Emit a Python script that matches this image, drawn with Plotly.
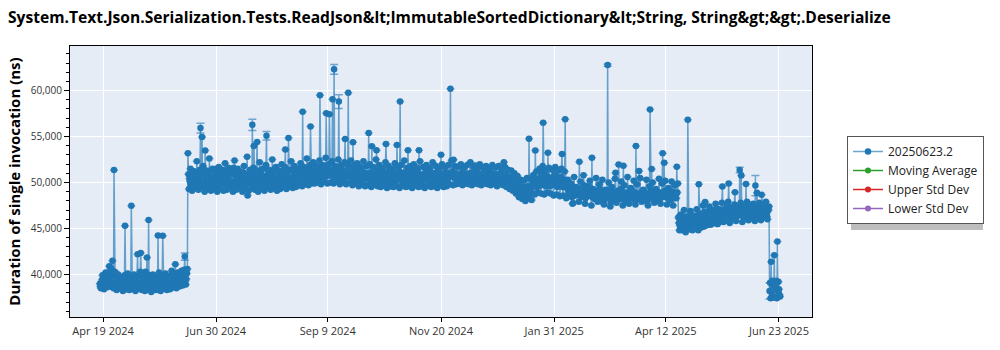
import pandas as pd
import plotly.graph_objects as go

title_text = ("System.Text.Json.Serialization.Tests.ReadJson&amp;lt;ImmutableSortedDictionary"
              "&amp;lt;String, String&amp;gt;&amp;gt;.Deserialize")
y_title = "Duration of single invocation (ns)"
series_name = "20250623.2"
extra_series = ["Moving Average", "Upper Std Dev", "Lower Std Dev"]
extra_colors = ["#2ca02c", "#d62728", "#9467bd"]

start_date = "2024-04-17"

# first reading of each day (ns)
values_run1 = [
    # Apr 17 2024 -> Jun 11 2024
    39000, 38800, 39300, 38700, 39600, 39200, 40900, 39800, 41480, 51350,
    40200, 39600, 38900, 39300, 38600, 39100, 45300, 38800, 39500, 38600,
    47470, 39000, 38500, 39700, 42190, 38700, 42340, 39200, 38600, 40300,
    41830, 45930, 38400, 39000, 38500, 39400, 38300, 44240, 38700, 39600,
    44200, 38900, 38600, 39300, 38800, 39500, 40100, 38900, 41100, 39200,
    39800, 38900, 40400, 39600, 41940, 39500,
    # Jun 12 2024 ->
    53180, 50400, 49800, 50900, 50200, 49600, 51100, 50300, 55920, 54950,
    50100, 53470, 49500, 50700, 49900, 50400, 49300, 50800, 51500, 50000,
    49700, 50600, 51300, 50200, 49800, 51000, 50300, 49600, 50900, 51600,
    50100, 49900, 50500, 51200, 50000, 49700, 50800, 50200, 48600, 50400,
    51100, 56270, 53980, 50600, 54410, 50300, 49800, 51400, 50700, 50100,
    55090, 50500, 49700, 51000, 50200, 49900, 51700, 50400, 50000, 51200,
    50600, 49800, 53580, 50900, 54840, 50300, 49900, 51300, 50500, 50100,
    50800, 51500, 50400, 57710, 50600, 51200, 50000, 50700, 56090, 51300,
    50500, 50900, 51600, 50300, 59480, 51000, 50600, 51800, 57540, 50800,
    57430, 51200, 59050, 62310, 51400, 50700, 58800, 51100, 50500, 51300,
    54730, 50900, 59770, 51000, 50400, 54370, 50800, 51200, 50100, 50600,
    51500, 50300, 49800, 50900, 50500, 55380, 50200, 53940, 50700, 49900,
    53510, 50400, 51000, 50200, 49700, 50600, 54200, 50100, 49600, 50800,
    51300, 50300, 49900, 54080, 50500, 58800, 50200, 49700, 51000, 50400,
    53510, 50000, 50700, 51200, 50300, 49800, 50600, 53510, 50100, 49600,
    50900, 50400, 51300, 50000, 50700, 50200, 49700, 50800, 51100, 50300,
    49900, 53010, 50500, 51000, 50200, 49800, 50700, 60200, 50900, 52470,
    50400, 50800, 50100, 51820, 50600, 50300, 51000, 50500, 50200, 50800,
    50400, 51100, 50000, 51840, 50600, 50300, 50900, 50400, 50100, 50700,
    51200, 50400, 50000, 50600, 50900, 50300, 50700, 50200, 50500, 51000,
    50400, 52200, 50600, 50100, 50400, 49900, 50300, 49600, 50000, 49400,
    49000, 49700, 48700, 49300, 48600, 49500, 49100, 54760, 48800, 49600,
    50200, 53470, 49500, 50400, 49800, 51000, 56490, 50100, 49600, 53250,
    50300, 49700, 50600, 49900, 50800, 49500, 50200, 49800, 53100, 50000,
    56890, 49400, 50100, 48800, 49300, 47760, 48600, 49500, 48900, 52250,
    49200, 48500, 49700, 48300, 49100, 48700, 49400, 52690, 48600, 49000,
    48200, 48800, 49300, 48400, 47900, 48700, 48300, 62780, 48500, 47800,
    48900, 48300, 51070, 48600, 51970, 48200, 49000, 51820, 48400, 47900,
    48800, 48300, 49200, 48500, 48100, 53980, 48700, 51240, 48400, 49000,
    48200, 48800, 47900, 48600, 57930, 51460, 48500, 49100, 48300, 48900,
    48000, 48700, 53180, 52140, 48400, 49200, 48600, 48100, 49000, 48500,
    48800, 51710,
    # Apr 2025 drop
    46200, 45300, 46000, 44900, 45600, 46300, 56820, 45100, 45800, 44800,
    46400, 45500, 46100, 49810, 45600, 46500, 45200, 47870, 46000, 45400,
    46700, 46200, 45700, 46900, 46300, 45500, 47100, 46400, 49560, 46800,
    45900, 47300, 49880, 46600, 47200, 46100, 48950, 46900, 47400, 51350,
    50750, 46500, 47000, 49840, 46300, 47500, 46800, 46200, 47300, 49670,
    48880, 46700, 47100, 48660, 46400, 47200, 46600, 47000,
    # Jun 2025 drop
    38200, 41370, 37600, 42080, 38900, 43590, 38400,
]

# second reading of each day (ns)
values_run2 = [
    38700, 39400, 38900, 39800, 38800, 40200, 39500, 40600, 39100, 40300,
    39100, 38500, 39700, 38700, 39400, 38400, 39800, 39200, 38700, 39300,
    38900, 39600, 39200, 38500, 39100, 39800, 38600, 38400, 39500, 38900,
    39300, 38600, 39700, 38500, 39200, 38700, 39500, 38900, 39300, 38500,
    39100, 39700, 39400, 38700, 39600, 39000, 38800, 39900, 39300, 38800,
    39400, 40000, 39100, 39700, 39300, 40100,
    50900, 50100, 50600, 49700, 51200, 50400, 49800, 50700, 51000, 50200,
    49600, 50800, 50400, 49900, 51300, 50000, 50600, 49500, 50200, 51100,
    50500, 49900, 50300, 51000, 50700, 49800, 50900, 51200, 50100, 49700,
    50800, 51400, 50000, 49600, 50700, 51100, 50200, 49900, 50600, 51000,
    49800, 50400, 51000, 50100, 49700, 50900, 51300, 50200, 49900, 50600,
    50300, 51100, 50400, 49800, 50700, 51300, 50100, 49700, 50900, 50500,
    51000, 50300, 49900, 51200, 50600, 50000, 51400, 50700, 49900, 51000,
    50500, 50100, 51100, 50800, 51300, 50400, 50900, 51500, 50600, 50300,
    51200, 50700, 50400, 51100, 50900, 51600, 50500, 51000, 50700, 51400,
    50800, 51300, 50600, 51100, 51700, 50600, 50900, 51400, 50800, 50400,
    51200, 50700, 51000, 51500, 50600, 51100, 50300, 50700, 51300, 50400,
    50800, 51200, 50500, 51000, 50700, 50300, 51100, 50600, 50200, 50900,
    51300, 50600, 50200, 50800, 51100, 50400, 50700, 51200, 50500, 50100,
    50600, 51000, 50400, 50800, 51200, 50300, 50700, 51100, 50500, 50000,
    50800, 51300, 50400, 50700, 50100, 50900, 51200, 50500, 50800, 50200,
    50600, 51100, 50300, 50800, 51200, 50500, 50900, 50300, 50600, 51000,
    50500, 50800, 50200, 50700, 51100, 50400, 50900, 50600, 51200, 50700,
    51000, 50500, 50800, 50300, 51100, 50700, 50900, 50400, 50800, 51000,
    50600, 50300, 50800, 50400, 51000, 50600, 50300, 50700, 51100, 50500,
    50800, 50300, 50700, 51000, 50400, 50600, 50900, 50500, 50800, 50300,
    50700, 50200, 50900, 50500, 50000, 50600, 50200, 49800, 50300, 49700,
    49300, 48900, 49500, 49000, 49400, 48800, 49600, 49200, 49000, 49900,
    49700, 50100, 50300, 49600, 50600, 50000, 49700, 50400, 50700, 49800,
    49600, 50500, 50000, 50800, 49700, 50300, 49900, 50600, 49500, 50300,
    49800, 49500, 49000, 49700, 48400, 49100, 49000, 48700, 49300, 48600,
    48800, 49300, 48600, 49000, 48500, 49500, 48800, 48400, 49100, 48300,
    48900, 48500, 48100, 49000, 48600, 48200, 49100, 48700, 48900, 48400,
    48600, 49000, 48200, 48800, 48400, 49300, 48700, 48100, 48900, 48500,
    48200, 49000, 48600, 48300, 48900, 48500, 48200, 48800, 48600, 48300,
    49000, 48400, 48700, 48200, 49100, 48600, 48900, 48300, 48700, 48200,
    48900, 48400, 48700, 49100, 48600, 48300, 48800, 48500, 49000, 48300,
    48700, 48900,
    45600, 46500, 44800, 45700, 46200, 45000, 45800, 46400, 44900, 45500,
    45300, 46100, 45700, 46600, 45100, 46000, 46800, 45300, 46500, 46900,
    45800, 47000, 46400, 45600, 47200, 46100, 46700, 45800, 47000, 46300,
    46900, 47500, 46200, 47000, 46500, 47300, 46100, 46800, 47200, 46600,
    47100, 46300, 47400, 46700, 47000, 46200, 47300, 46900, 46500, 47200,
    46800, 47400, 46500, 47100, 46700, 47500, 46300, 47000,
    39100, 38000, 38800, 37500, 39300, 38200, 37800,
]

# third reading of each day (ns)
values_run3 = [
    38500, 39900, 38400, 40200, 38600, 39900, 38700, 40400, 38500, 39800,
    38300, 40000, 38500, 39600, 38200, 39900, 38400, 40100, 38300, 39700,
    38400, 40000, 38200, 39800, 38500, 40300, 38300, 39700, 38200, 40100,
    38400, 39900, 38100, 40000, 38300, 39800, 38400, 40200, 38200, 39900,
    38500, 40100, 38300, 39800, 38400, 40400, 38600, 40000, 38500, 40200,
    38700, 40300, 38800, 40500, 38900, 40600,
    49300, 51500, 49100, 51200, 49400, 52300, 49200, 51400, 49500, 51800,
    49000, 51300, 49300, 52600, 49100, 51500, 49400, 51200, 49000, 51700,
    49300, 51400, 49100, 52100, 49200, 51600, 49500, 51300, 49000, 52400,
    49200, 51500, 49400, 51100, 49000, 51800, 49300, 52800, 49100, 51400,
    49400, 51600, 49200, 51300, 49000, 52200, 49300, 51500, 49100, 51900,
    49500, 51400, 49200, 52500, 49400, 51600, 49100, 51300, 49300, 52000,
    49500, 51700, 49300, 51400, 49600, 52300, 49400, 51800, 49500, 51500,
    49700, 52100, 49600, 51700, 49800, 52600, 49700, 51900, 49900, 52200,
    49900, 51800, 50000, 52400, 49800, 51900, 50100, 52700, 49900, 52000,
    50000, 52300, 49900, 51800, 50100, 52500, 49800, 51900, 50000, 52200,
    49800, 51900, 50000, 52400, 49700, 51800, 49900, 52100, 49600, 51700,
    49800, 52300, 49600, 51800, 49700, 52000, 49500, 51700, 49800, 52500,
    49600, 51900, 49500, 51600, 49700, 52200, 49400, 51800, 49600, 51500,
    49500, 52100, 49600, 51700, 49400, 51900, 49700, 52400, 49500, 51600,
    49600, 51800, 49400, 52000, 49700, 51600, 49500, 52300, 49600, 51700,
    49400, 51900, 49700, 51600, 49500, 52200, 49600, 51800, 49400, 51500,
    49700, 52000, 49500, 51700, 49600, 51900, 49800, 52400, 49700, 51800,
    49800, 51700, 49900, 52000, 49700, 51600, 49900, 51900, 49800, 52200,
    49700, 51700, 49900, 51500, 49800, 52000, 49700, 51600, 49900, 51800,
    49800, 51500, 49700, 51900, 49900, 51600, 49600, 51800, 49800, 51500,
    49700, 51700, 49500, 51400, 49300, 51300, 49100, 51000, 48800, 50700,
    48400, 50300, 48200, 50200, 48000, 50500, 48300, 50400, 48100, 50800,
    48700, 51200, 48900, 51500, 48800, 51800, 48700, 51300, 48900, 51600,
    48800, 51400, 48600, 51700, 48700, 51300, 48500, 51500, 48600, 51200,
    48300, 50300, 48800, 49900, 47700, 50600, 48600, 49400, 47900, 50100,
    48400, 50800, 47700, 49600, 48900, 50200, 47500, 49300, 48200, 50500,
    47900, 49800, 48500, 50300, 47600, 49200, 48700, 50000, 47400, 49500,
    48300, 50400, 47800, 49100, 48800, 50100, 47500, 49700, 48400, 50600,
    47700, 49400, 48900, 50200, 47600, 49800, 48300, 50500, 47900, 49200,
    48600, 50300, 47500, 49600, 48800, 50000, 47800, 49300, 48400, 50400,
    47700, 49900, 48500, 50200, 47600, 49400, 48900, 50100, 47500, 49700,
    48300, 49900,
    44800, 46500, 45300, 47000, 44600, 46200, 45500, 46900, 44900, 46300,
    45600, 47100, 44800, 46600, 45700, 47500, 45300, 46400, 45800, 47400,
    45400, 46900, 46000, 47700, 45500, 46600, 46200, 47800, 45700, 47100,
    46100, 47900, 45600, 47000, 46300, 47600, 45800, 46900, 46400, 47800,
    45700, 47300, 46200, 47900, 45900, 46800, 46500, 47700, 45800, 47200,
    46300, 47800, 45900, 47100, 46400, 47900, 46000, 47400,
    37400, 39300, 37500, 38600, 37400, 39200, 37600,
]

# error bars on first reading (day index -> half-width, ns)
err_days = [54, 64, 97, 106, 149, 152, 323, 407, 417, 426]
err_sizes = [400, 540, 620, 470, 540, 750, 120, 300, 1100, 900]

tick_dates = ["2024-04-19", "2024-06-30", "2024-09-09", "2024-11-20",
              "2025-01-31", "2025-04-12", "2025-06-23"]
y_ticks = [40000, 45000, 50000, 55000, 60000]

values = [v for trip in zip(values_run1, values_run2, values_run3) for v in trip]
times = pd.date_range(start_date, periods=len(values), freq="8h")
errs = [0] * len(values)
for d, e in zip(err_days, err_sizes):
    errs[3 * d] = e

FONT = "Open Sans"
blue = "#1f77b4"

fig = go.Figure()
fig.add_trace(go.Scatter(
    x=times, y=values, name=series_name, mode="lines+markers",
    line=dict(color="rgba(31,119,180,0.65)", width=1.5),
    marker=dict(color=blue, size=6.5),
    error_y=dict(type="data", array=errs, visible=True,
                 color="rgba(31,119,180,0.6)", thickness=1.5, width=4),
))
for nm, col in zip(extra_series, extra_colors):
    fig.add_trace(go.Scatter(x=[None], y=[None], name=nm, mode="lines+markers",
                             line=dict(color=col, width=1.5),
                             marker=dict(color=col, size=6)))

# plot area in pixels: x 70..812, y 46..320
pw, ph = 742.0, 274.0
def px(xp):
    return (xp - 70) / pw
def py(yp):
    return (320 - yp) / ph

fig.add_shape(type="rect", xref="paper", yref="paper",
              x0=px(851), x1=px(983), y0=py(232), y1=py(141),
              fillcolor="#bdbdbd", line=dict(width=0), layer="above")

fig.update_layout(
    width=1000, height=350,
    margin=dict(l=70, r=188, t=46, b=30),
    paper_bgcolor="white", plot_bgcolor="#E5ECF6",
    font=dict(family=FONT, color="#222"),
    title=dict(text=title_text, x=8 / 1000, xanchor="left", xref="container",
               y=1 - 18 / 350, yanchor="middle", yref="container",
               font=dict(family=FONT, size=15.6, color="black", weight="bold")),
    showlegend=True,
    legend=dict(x=px(847), y=py(137), xanchor="left", yanchor="top",
                bgcolor="white", bordercolor="#555", borderwidth=1,
                font=dict(family=FONT, size=12, color="#222")),
    xaxis=dict(type="date", range=["2024-03-29", "2025-07-14"],
               tickvals=tick_dates, tickformat="%b %-d %Y",
               showgrid=True, gridcolor="white", gridwidth=1,
               showline=True, linecolor="black", linewidth=1, mirror=True,
               ticks="outside", ticklen=4, tickcolor="black",
               tickfont=dict(family=FONT, size=11, color="#333"),
               zeroline=False),
    yaxis=dict(range=[35370, 64850], tickvals=y_ticks, tickformat=",",
               showgrid=True, gridcolor="white", gridwidth=1,
               showline=True, linecolor="black", linewidth=1, mirror=True,
               ticks="outside", ticklen=5, tickcolor="black",
               tickfont=dict(family=FONT, size=10, color="#333"),
               minor=dict(dtick=1000, tick0=0, ticks="outside", ticklen=3,
                          tickcolor="black", showgrid=False),
               title=dict(text=y_title, standoff=6,
                          font=dict(family=FONT, size=15, color="black",
                                    weight="bold")),
               zeroline=False),
)

fig.write_html("out.html")
